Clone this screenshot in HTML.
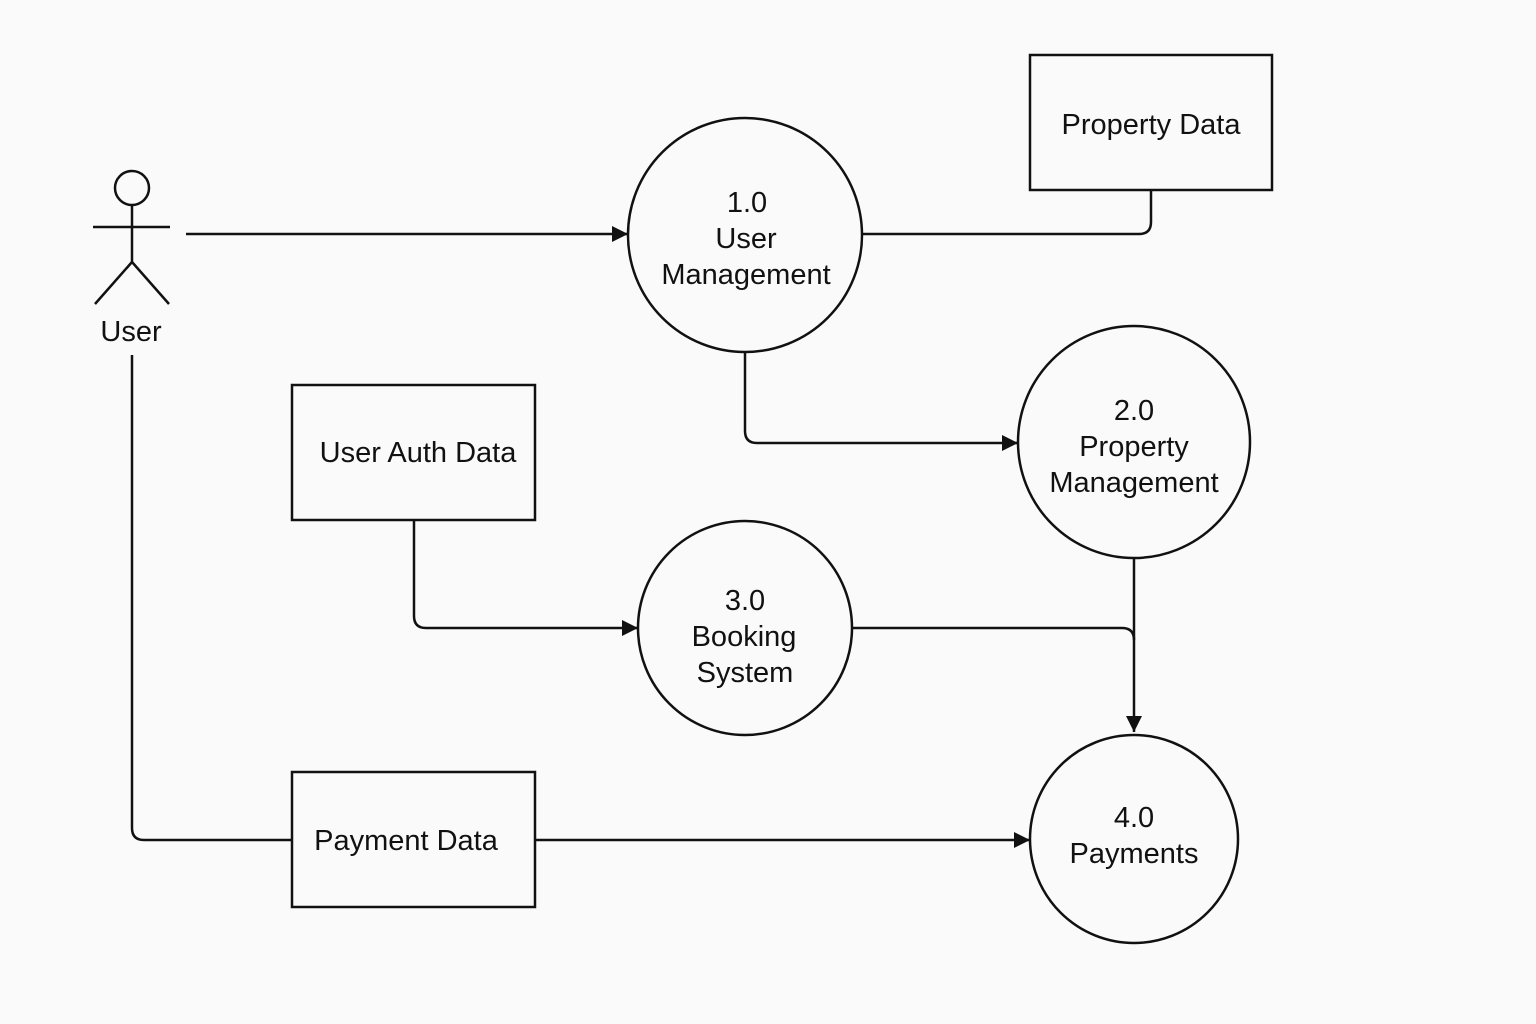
<!DOCTYPE html>
<html><head><meta charset="utf-8"><style>
html,body{margin:0;padding:0;background:#fafafa;}
svg{display:block;}
text{font-family:"Liberation Sans",sans-serif;font-size:29px;fill:#111;text-anchor:middle;}
</style></head><body>
<svg width="1536" height="1024" viewBox="0 0 1536 1024" xmlns="http://www.w3.org/2000/svg">
<defs><marker id="a" viewBox="0 0 10 10" refX="10" refY="5" markerWidth="16" markerHeight="16" markerUnits="userSpaceOnUse" orient="auto"><path d="M0,0 L10,5 L0,10 z" fill="#111"/></marker></defs>
<rect width="1536" height="1024" fill="#fafafa"/>
<g stroke="#111" stroke-width="2.5" fill="none">
<circle cx="132" cy="188" r="17"/>
<line x1="132" y1="205" x2="132" y2="262"/>
<line x1="93" y1="227" x2="170" y2="227"/>
<line x1="132" y1="262" x2="95" y2="304"/>
<line x1="132" y1="262" x2="169" y2="304"/>
<line x1="186" y1="234" x2="628" y2="234" marker-end="url(#a)"/>
<circle cx="745" cy="235" r="117"/>
<rect x="1030" y="55" width="242" height="135"/>
<path d="M862,234 H1139 Q1151,234 1151,222 V190"/>
<path d="M745,353 V431 Q745,443 757,443 H1018" marker-end="url(#a)"/>
<circle cx="1134" cy="442" r="116"/>
<rect x="292" y="385" width="243" height="135"/>
<path d="M414,520 V616 Q414,628 426,628 H638" marker-end="url(#a)"/>
<circle cx="745" cy="628" r="107"/>
<path d="M852,628 H1122 Q1134,628 1134,640"/>
<path d="M1134,559 V732" marker-end="url(#a)"/>
<circle cx="1134" cy="839" r="104"/>
<rect x="292" y="772" width="243" height="135"/>
<path d="M535,840 H1030" marker-end="url(#a)"/>
<path d="M132,355 V828 Q132,840 144,840 H292"/>
</g>
<text x="131" y="341">User</text>
<text x="747" y="212">1.0</text>
<text x="746" y="248">User</text>
<text x="746" y="284">Management</text>
<text x="1151" y="134">Property Data</text>
<text x="1134" y="420">2.0</text>
<text x="1134" y="456">Property</text>
<text x="1134" y="492">Management</text>
<text x="418" y="462">User Auth Data</text>
<text x="745" y="610">3.0</text>
<text x="744" y="646">Booking</text>
<text x="745" y="682">System</text>
<text x="1134" y="827">4.0</text>
<text x="1134" y="863">Payments</text>
<text x="406" y="850">Payment Data</text>
</svg>
</body></html>
